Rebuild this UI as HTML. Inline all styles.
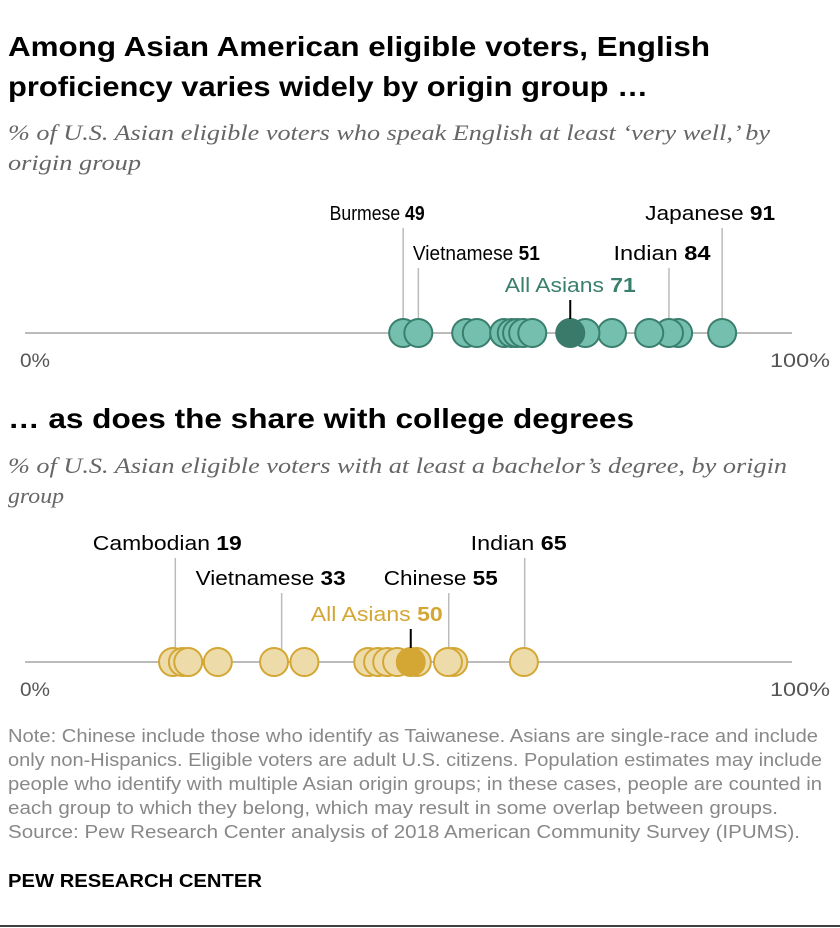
<!DOCTYPE html>
<html><head><meta charset="utf-8"><style>
body{margin:0;background:#fff;width:840px;height:928px;overflow:hidden;font-family:"Liberation Sans",sans-serif}
svg{position:absolute;left:0;top:0}
</style></head><body>
<svg width="840" height="928">
<g font-family="Liberation Sans, sans-serif">
<text x="8" y="56" font-size="28" font-weight="bold" fill="#000" textLength="702" lengthAdjust="spacingAndGlyphs">Among Asian American eligible voters, English</text>
<text x="8" y="96" font-size="28" font-weight="bold" fill="#000" textLength="640" lengthAdjust="spacingAndGlyphs">proficiency varies widely by origin group …</text>
<text x="8" y="140" font-size="22" font-style="italic" font-family="Liberation Serif, serif" fill="#666" textLength="762" lengthAdjust="spacingAndGlyphs">% of U.S. Asian eligible voters who speak English at least ‘very well,’ by</text>
<text x="8" y="170" font-size="22" font-style="italic" font-family="Liberation Serif, serif" fill="#666" textLength="133" lengthAdjust="spacingAndGlyphs">origin group</text>
<text x="8" y="428" font-size="28" font-weight="bold" fill="#000" textLength="626" lengthAdjust="spacingAndGlyphs">… as does the share with college degrees</text>
<text x="8" y="473" font-size="22" font-style="italic" font-family="Liberation Serif, serif" fill="#666" textLength="779" lengthAdjust="spacingAndGlyphs">% of U.S. Asian eligible voters with at least a bachelor’s degree, by origin</text>
<text x="8" y="503" font-size="22" font-style="italic" font-family="Liberation Serif, serif" fill="#666" textLength="56" lengthAdjust="spacingAndGlyphs">group</text>
<g font-size="18" fill="#888">
<text x="8" y="742" textLength="810" lengthAdjust="spacingAndGlyphs">Note: Chinese include those who identify as Taiwanese. Asians are single-race and include</text>
<text x="8" y="766" textLength="814" lengthAdjust="spacingAndGlyphs">only non-Hispanics. Eligible voters are adult U.S. citizens. Population estimates may include</text>
<text x="8" y="790" textLength="814" lengthAdjust="spacingAndGlyphs">people who identify with multiple Asian origin groups; in these cases, people are counted in</text>
<text x="8" y="814" textLength="770" lengthAdjust="spacingAndGlyphs">each group to which they belong, which may result in some overlap between groups.</text>
<text x="8" y="838" textLength="792" lengthAdjust="spacingAndGlyphs">Source: Pew Research Center analysis of 2018 American Community Survey (IPUMS).</text>
</g>
<text x="8" y="887" font-size="18" font-weight="bold" fill="#000" textLength="254" lengthAdjust="spacingAndGlyphs">PEW RESEARCH CENTER</text>
<line x1="0" y1="926" x2="840" y2="926" stroke="#000" stroke-width="1.5"/>
</g>
<g id="c1"></g><g id="c2"></g>
</svg>
<script>
const englishValues=[49,51,57.3,58.7,62.3,63.3,64,64.8,66,73,76.5,81.4,84,85.2,91];
const englishAll=71;
const englishNames=["Burmese","Vietnamese","Indian","Japanese"];
const englishLabelValues=[49,51,84,91];
const degreeValues=[18.7,20,20.7,24.6,32,36,44.4,45.7,46.9,48.2,50.8,54.9,55.6,64.9];
const degreeAll=50;
const degreeNames=["Cambodian","Vietnamese","Chinese","Indian"];
const degreeLabelValues=[19,33,55,65];
// layout only: label rows, horizontal offsets and widths
const englishRows=[1,2,2,1], englishShift=[-26,58,-7,-12], englishW=[95,127,97,130];
const degreeRows=[1,2,2,1], degreeShift=[-8,-11,-8,-6], degreeW=[149,150,114,96];
const NS="http://www.w3.org/2000/svg";
const x=v=>31+v*7.595;
function el(p,t,a){const e=document.createElementNS(NS,t);for(const k in a)e.setAttribute(k,a[k]);p.appendChild(e);return e;}
function draw(g,vals,all,names,lv,rows,shift,widths,y,fill,stroke,dark,allColor,rowY,allShift,allW){
  let l=el(g,'line',{x1:25,x2:792,y1:y,y2:y,stroke:'#bbb','stroke-width':2});
  
  
  let t0=el(g,'text',{x:20,y:y+34,'font-size':19,fill:'#555',textLength:30,lengthAdjust:'spacingAndGlyphs'});t0.textContent='0%';
  
  
  let t1=el(g,'text',{x:830,y:y+34,'font-size':19,fill:'#555','text-anchor':'end',textLength:60,lengthAdjust:'spacingAndGlyphs'});t1.textContent='100%';
  
  
  names.forEach((n,i)=>{
    const v=lv[i], ly=rowY[rows[i]-1];
    let ln=el(g,'line',{x1:x(v),x2:x(v),y1:ly+8,y2:y,stroke:'#bbb','stroke-width':1.5});
    
    
    let tx=el(g,'text',{x:x(v)+shift[i]-widths[i]/2,y:ly,'font-size':20,fill:'#000',textLength:widths[i],lengthAdjust:'spacingAndGlyphs'});
    tx.innerHTML=n+' <tspan font-weight="bold">'+v+'</tspan>';
    
    
  });
  const dot=v=>{
    let c=el(g,'circle',{cx:x(v),cy:y,r:14,fill:fill,stroke:stroke,'stroke-width':2});
    
    
  };
  vals.forEach(v=>{if(v<=all)dot(v);});
  vals.slice().reverse().forEach(v=>{if(v>all)dot(v);});
  let a=el(g,'circle',{cx:x(all),cy:y,r:14,fill:dark,stroke:dark,'stroke-width':2});
  
  
  let al=el(g,'line',{x1:x(all),x2:x(all),y1:y-33,y2:y-14,stroke:'#000','stroke-width':2});
  
  
  let at=el(g,'text',{x:x(all)+allShift-allW/2,y:y-41,'font-size':20,fill:allColor,textLength:allW,lengthAdjust:'spacingAndGlyphs'});
  at.innerHTML='All Asians <tspan font-weight="bold">'+all+'</tspan>';
  
  
}
draw(document.getElementById('c1'),englishValues,englishAll,englishNames,englishLabelValues,englishRows,englishShift,englishW,333,'#74bfae','#3a7f6e','#3a7a6a','#3a7f6e',[220,260],0,131);
draw(document.getElementById('c2'),degreeValues,degreeAll,degreeNames,degreeLabelValues,degreeRows,degreeShift,degreeW,662,'#eddcaa','#d4a735','#d4a735','#d4a735',[550,585],-34,132);
</script>
</body></html>
